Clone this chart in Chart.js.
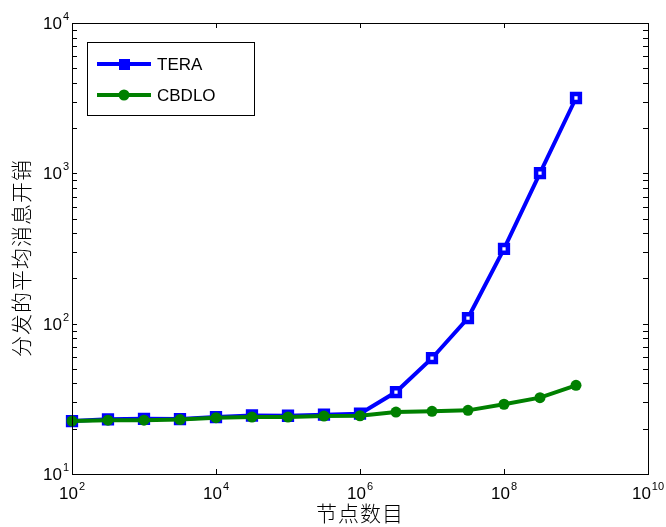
<!DOCTYPE html>
<html lang="zh">
<head>
    <meta charset="UTF-8">
    <title>分发的平均消息开销</title>
    <script src="https://cdn.jsdelivr.net/npm/chart.js"></script>
    <style>
        html, body { margin: 0; padding: 0; background: #fff; }
        #wrap { width: 666px; height: 527px; }
    </style>
</head>
<body>
    <div id="wrap"><canvas id="costChart" width="666" height="527"></canvas></div>

    <script>
        // data (log-log)
        const nodeCounts = [1e2, 3.16e2, 1e3, 3.16e3, 1e4, 3.16e4, 1e5, 3.16e5, 1e6, 3.16e6, 1e7, 3.16e7, 1e8, 3.16e8, 1e9];
        const teraCost   = [22.5, 23.1, 23.3, 23.2, 23.9, 24.5, 24.4, 24.8, 25.2, 35.1, 58.9, 109, 314, 1003, 3170];
        const cbdloCost  = [22.5, 22.8, 22.8, 23.0, 23.7, 23.9, 23.9, 24.3, 24.4, 25.8, 26.1, 26.5, 29.1, 32.2, 38.9];

        const seriesNames = ['TERA', 'CBDLO'];
        const xTicks = [1e2, 1e4, 1e6, 1e8, 1e10];
        const xTickExp = ['2', '4', '6', '8', '10'];
        const yTicks = [1e1, 1e2, 1e3, 1e4];
        const yTickExp = ['1', '2', '3', '4'];
        const xTitle = '节点数目';
        const yTitle = '分发的平均消息开销';

        const toPoints = (xs, ys) => xs.map((x, i) => ({ x: x, y: ys[i] }));

        const FONT = '"Liberation Sans", Arial, sans-serif';
        const CJK = '"Noto Sans CJK SC", sans-serif';
        const TICK = 5;

        function powLabel(ctx, exp, x, y, mode) {
            ctx.font = '17px ' + FONT;
            const wBase = ctx.measureText('10').width;
            ctx.font = '11px ' + FONT;
            const wExp = ctx.measureText(exp).width;
            let left;
            if (mode === 'center') left = x - (wBase + wExp + 1) / 2;
            else left = x - (wBase + wExp + 1);
            ctx.textAlign = 'left';
            ctx.textBaseline = 'alphabetic';
            ctx.font = '17px ' + FONT;
            ctx.fillText('10', left, y);
            ctx.font = '11px ' + FONT;
            ctx.fillText(exp, left + wBase + 1, y - 9);
        }

        // axes box, ticks, labels and legend in MATLAB style
        const matlabAxes = {
            id: 'matlabAxes',
            afterDatasetsDraw(chart) {
                const ctx = chart.ctx;
                const a = chart.chartArea;
                const xs = chart.scales.x, ys = chart.scales.y;
                ctx.save();
                ctx.strokeStyle = '#000';
                ctx.fillStyle = '#000';
                ctx.lineWidth = 1;

                // frame
                ctx.strokeRect(Math.round(a.left) + 0.5, Math.round(a.top) + 0.5,
                    Math.round(a.right - a.left), Math.round(a.bottom - a.top));

                ctx.beginPath();
                // x ticks (bottom + top)
                xTicks.forEach(v => {
                    const px = Math.round(xs.getPixelForValue(v)) + 0.5;
                    ctx.moveTo(px, a.bottom); ctx.lineTo(px, a.bottom - TICK);
                    ctx.moveTo(px, a.top); ctx.lineTo(px, a.top + TICK);
                });
                // y ticks, major + minor (left + right)
                for (let d = 1; d < 4; d++) {
                    for (let m = 1; m <= 10; m++) {
                        const v = m * Math.pow(10, d);
                        const py = Math.round(ys.getPixelForValue(v)) + 0.5;
                        ctx.moveTo(a.left, py); ctx.lineTo(a.left + TICK, py);
                        ctx.moveTo(a.right, py); ctx.lineTo(a.right - TICK, py);
                    }
                }
                ctx.stroke();

                // tick labels
                xTicks.forEach((v, i) => {
                    powLabel(ctx, xTickExp[i], xs.getPixelForValue(v), a.bottom + 25, 'center');
                });
                yTicks.forEach((v, i) => {
                    powLabel(ctx, yTickExp[i], 69, ys.getPixelForValue(v) + 6, 'right');
                });

                // axis titles
                ctx.font = '300 21px ' + CJK;
                ctx.textAlign = 'center';
                ctx.textBaseline = 'middle';
                ctx.letterSpacing = '1px';
                ctx.fillText(xTitle, (a.left + a.right) / 2, 513);
                ctx.save();
                ctx.translate(21, 258);
                ctx.rotate(-Math.PI / 2);
                ctx.fillText(yTitle, 0, 0);
                ctx.restore();
                ctx.letterSpacing = '0px';

                // legend
                const lx = 87, ly = 42, lw = 167, lh = 73;
                ctx.fillStyle = '#fff';
                ctx.fillRect(lx, ly, lw, lh);
                ctx.lineWidth = 1;
                ctx.strokeRect(lx + 0.5, ly + 0.5, lw, lh);
                const rows = [64, 95];
                chart.data.datasets.forEach((ds, i) => {
                    const y = rows[i];
                    ctx.strokeStyle = ds.borderColor;
                    ctx.lineWidth = 4;
                    ctx.beginPath();
                    ctx.moveTo(97, y); ctx.lineTo(151, y);
                    ctx.stroke();
                    ctx.fillStyle = ds.borderColor;
                    if (ds.pointStyle === 'rect') {
                        ctx.fillRect(119, y - 5, 11, 11);
                    } else {
                        ctx.beginPath();
                        ctx.arc(124, y, 5.5, 0, Math.PI * 2);
                        ctx.fill();
                    }
                    ctx.fillStyle = '#000';
                    ctx.font = '17px ' + FONT;
                    ctx.textAlign = 'left';
                    ctx.textBaseline = 'middle';
                    ctx.fillText(ds.label, 157, y + 1);
                });
                ctx.restore();
            }
        };

        new Chart(document.getElementById('costChart').getContext('2d'), {
            type: 'line',
            data: {
                datasets: [{
                    label: seriesNames[0],
                    data: toPoints(nodeCounts, teraCost),
                    borderColor: '#0000ff',
                    backgroundColor: '#0000ff',
                    borderWidth: 4,
                    pointStyle: 'rect',
                    pointRadius: 5.5,
                    pointBorderWidth: 4.5,
                    pointBackgroundColor: '#ffffff',
                    pointBorderColor: '#0000ff',
                    tension: 0,
                    clip: false,
                    order: 2
                }, {
                    label: seriesNames[1],
                    data: toPoints(nodeCounts, cbdloCost),
                    borderColor: '#008000',
                    backgroundColor: '#008000',
                    borderWidth: 4,
                    pointStyle: 'circle',
                    pointRadius: 5.5,
                    pointBorderWidth: 0,
                    pointBackgroundColor: '#008000',
                    tension: 0,
                    clip: false,
                    order: 1
                }]
            },
            options: {
                responsive: false,
                animation: false,
                layout: { padding: { left: 72, top: 23, right: 18, bottom: 53 } },
                plugins: { legend: { display: false }, tooltip: { enabled: false } },
                scales: {
                    x: { type: 'logarithmic', min: 1e2, max: 1e10, display: false },
                    y: { type: 'logarithmic', min: 1e1, max: 1e4, display: false }
                }
            },
            plugins: [matlabAxes]
        });
    </script>
</body>
</html>
